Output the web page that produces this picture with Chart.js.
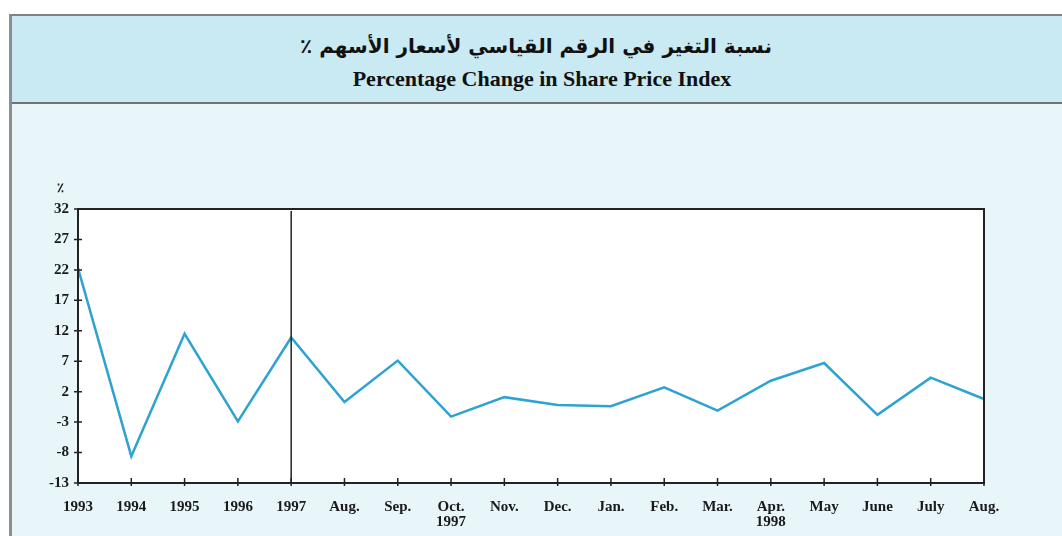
<!DOCTYPE html>
<html lang="ar">
<head>
<meta charset="UTF-8">
<title>Percentage Change in Share Price Index</title>
<script src="https://cdn.jsdelivr.net/npm/chart.js"></script>
<style>
    body {
        margin: 0;
        width: 1062px;
        height: 536px;
        overflow: hidden;
        background: #ffffff;
        position: relative;
        font-family: 'Liberation Serif', serif;
    }
    .frame {
        position: absolute;
        left: 9px;
        top: 14px;
        width: 1060px;
        height: 530px;
        border-left: 3px solid #8a8f93;
        border-top: 2px solid #7d8286;
        background: #e8f6fa;
    }
    .header {
        height: 86px;
        background: #c9eaf2;
        border-bottom: 2px solid #6f7478;
        text-align: center;
    }
    .ar {
        font-family: 'DejaVu Sans', sans-serif;
        font-weight: bold;
        font-size: 20px;
        padding-top: 17px;
        line-height: 26px;
        direction: rtl;
        color: #111;
        margin-left: -12px;
    }
    .en {
        font-weight: bold;
        font-size: 22px;
        line-height: 26px;
        margin-top: 7px;
        color: #111;
        margin-left: 0px;
    }
    #wrap {
        position: absolute;
        left: 0;
        top: 0;
        width: 1062px;
        height: 536px;
    }
</style>
</head>
<body>
<div class="frame">
    <div class="header">
        <div class="ar">نسبة التغير في الرقم القياسي لأسعار الأسهم ٪</div>
        <div class="en">Percentage Change in Share Price Index</div>
    </div>
</div>
<div id="wrap"><canvas id="chart"></canvas></div>

<script>
    const labels = ['1993', '1994', '1995', '1996', '1997', 'Aug.', 'Sep.', ['Oct.', '1997'], 'Nov.',
        'Dec.', 'Jan.', 'Feb.', 'Mar.', ['Apr.', '1998'], 'May', 'June', 'July', 'Aug.'];
    const values = [22.3, -8.6, 11.5, -2.9, 10.9, 0.3, 7.1, -2.1, 1.1,
        -0.2, -0.4, 2.7, -1.1, 3.8, 6.7, -1.8, 4.3, 0.8];
    const yTicks = [-13, -8, -3, 2, 7, 12, 17, 22, 27, 32];
    const dividerIndex = 4; // 1997 : annual -> monthly

    const tickFont = { family: 'Liberation Serif', weight: 'bold', size: 15, lineHeight: 1.0 };

    // white plot area, frame, crossing tick marks, divider line, % label
    const decor = {
        id: 'decor',
        beforeDraw(chart) {
            const { ctx, chartArea: a } = chart;
            ctx.save();
            ctx.fillStyle = '#ffffff';
            ctx.fillRect(a.left, a.top, a.right - a.left, a.bottom - a.top);
            ctx.restore();
        },
        afterDraw(chart) {
            const { ctx, chartArea: a, scales } = chart;
            ctx.save();
            ctx.strokeStyle = '#222';
            ctx.lineWidth = 2;
            ctx.strokeRect(a.left, a.top, a.right - a.left, a.bottom - a.top);

            ctx.lineWidth = 1.5;
            ctx.beginPath();
            scales.y.ticks.forEach((t, i) => {
                const y = scales.y.getPixelForTick(i);
                ctx.moveTo(a.left - 4, y);
                ctx.lineTo(a.left + 4, y);
            });
            scales.x.ticks.forEach((t, i) => {
                const x = scales.x.getPixelForTick(i);
                ctx.moveTo(x, a.bottom - 5);
                ctx.lineTo(x, a.bottom + 3);
            });
            ctx.stroke();

            const xd = scales.x.getPixelForValue(dividerIndex);
            ctx.lineWidth = 1.5;
            ctx.beginPath();
            ctx.moveTo(xd, a.top + 2);
            ctx.lineTo(xd, a.bottom);
            ctx.stroke();

            ctx.fillStyle = '#222';
            ctx.font = 'bold 13px "Liberation Serif"';
            ctx.textAlign = 'center';
            ctx.fillText('٪', 60, 192);
            ctx.restore();
        }
    };

    new Chart(document.getElementById('chart'), {
        type: 'line',
        data: {
            labels: labels,
            datasets: [{
                data: values,
                borderColor: '#2ea3d2',
                borderWidth: 2.5,
                pointRadius: 0,
                tension: 0
            }]
        },
        options: {
            responsive: true,
            maintainAspectRatio: false,
            animation: false,
            layout: { padding: { left: 0, right: 78, top: 209, bottom: 0 } },
            plugins: { legend: { display: false }, tooltip: { enabled: false } },
            scales: {
                x: {
                    offset: false,
                    grid: { display: false, drawTicks: false },
                    border: { display: false },
                    ticks: {
                        color: '#1a1a1a',
                        font: tickFont,
                        maxRotation: 0,
                        autoSkip: false,
                        padding: 17
                    },
                    afterFit(scale) { scale.height = 53; }
                },
                y: {
                    min: -13,
                    max: 32,
                    grid: { display: false, drawTicks: false },
                    border: { display: false },
                    ticks: {
                        color: '#1a1a1a',
                        font: tickFont,
                        padding: 9
                    },
                    afterBuildTicks(scale) {
                        scale.ticks = yTicks.map(v => ({ value: v }));
                    },
                    afterFit(scale) { scale.width = 78; }
                }
            }
        },
        plugins: [decor]
    });
</script>
</body>
</html>
